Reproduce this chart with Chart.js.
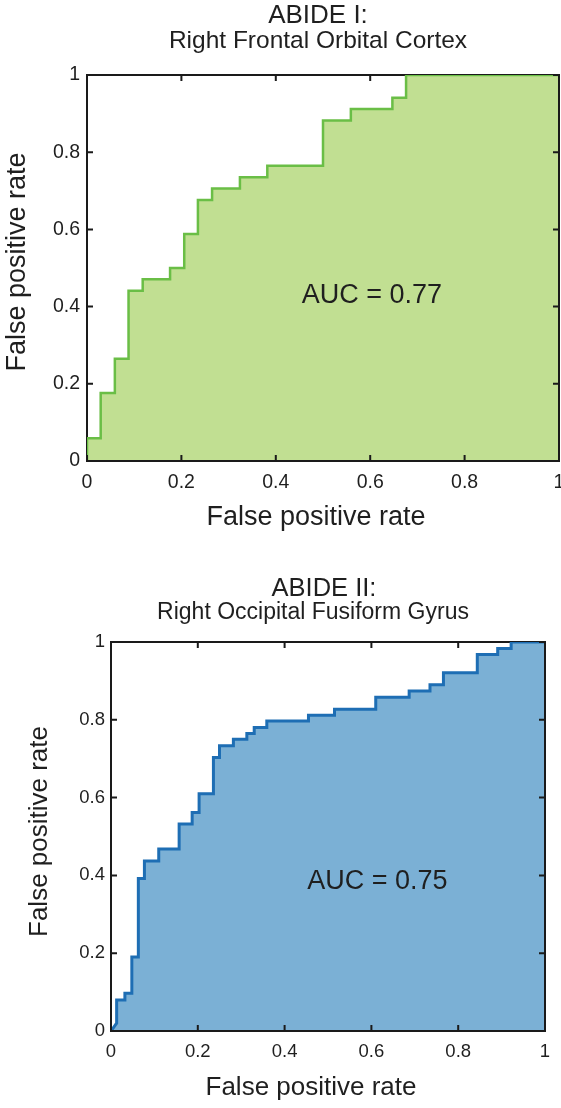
<!DOCTYPE html>
<html><head><meta charset="utf-8">
<script src="https://cdn.jsdelivr.net/npm/chart.js@4.4.1/dist/chart.umd.min.js"></script>
<style>
html,body{margin:0;padding:0;background:#fff;}
.wrap{position:relative;width:561px;height:554px;}
canvas{display:block;}
</style></head><body>
<div class="wrap"><canvas id="c1" width="561" height="554"></canvas></div>
<div class="wrap"><canvas id="c2" width="561" height="554"></canvas></div>
<script>
// ---- data ----
const tickValues = [0, 0.2, 0.4, 0.6, 0.8, 1];
const tickLabels = ['0', '0.2', '0.4', '0.6', '0.8', '1'];

const titleTop = 'ABIDE I:';
const subtitleTop = 'Right Frontal Orbital Cortex';
const fprTop = [0, 0, 0.029, 0.029, 0.059, 0.059, 0.088, 0.088, 0.118, 0.118, 0.176, 0.176, 0.206, 0.206, 0.235, 0.235, 0.265, 0.265, 0.324, 0.324, 0.382, 0.382, 0.5, 0.5, 0.559, 0.559, 0.647, 0.647, 0.676, 0.676, 1];
const tprTop = [0, 0.059, 0.059, 0.176, 0.176, 0.265, 0.265, 0.441, 0.441, 0.471, 0.471, 0.5, 0.5, 0.588, 0.588, 0.676, 0.676, 0.706, 0.706, 0.735, 0.735, 0.765, 0.765, 0.882, 0.882, 0.912, 0.912, 0.941, 0.941, 1, 1];
const aucTop = 'AUC = 0.77';

const titleBottom = 'ABIDE II:';
const subtitleBottom = 'Right Occipital Fusiform Gyrus';
const fprBottom = [0, 0.013, 0.013, 0.032, 0.032, 0.048, 0.048, 0.063, 0.063, 0.077, 0.077, 0.11, 0.11, 0.157, 0.157, 0.187, 0.187, 0.203, 0.203, 0.236, 0.236, 0.25, 0.25, 0.282, 0.282, 0.313, 0.313, 0.33, 0.33, 0.359, 0.359, 0.455, 0.455, 0.515, 0.515, 0.61, 0.61, 0.687, 0.687, 0.735, 0.735, 0.766, 0.766, 0.844, 0.844, 0.891, 0.891, 0.922, 0.922, 1];
const tprBottom = [0, 0.02, 0.08, 0.08, 0.097, 0.097, 0.19, 0.19, 0.392, 0.392, 0.437, 0.437, 0.468, 0.468, 0.532, 0.532, 0.562, 0.562, 0.61, 0.61, 0.703, 0.703, 0.733, 0.733, 0.75, 0.75, 0.765, 0.765, 0.78, 0.78, 0.797, 0.797, 0.812, 0.812, 0.827, 0.827, 0.858, 0.858, 0.874, 0.874, 0.89, 0.89, 0.921, 0.921, 0.968, 0.968, 0.983, 0.983, 1, 1];
const aucBottom = 'AUC = 0.75';

const axisLabel = 'False positive rate';

// ---- drawing ----
const FONT = "'Liberation Sans', Arial, Helvetica, sans-serif";
const INK = '#1f1f1f';

function frameLines(ctx, a, sides) {
  ctx.save();
  ctx.strokeStyle = '#1a1a1a';
  ctx.lineWidth = 2;
  ctx.lineCap = 'square';
  const L = a.left, R = a.right, T = a.top, B = a.bottom;
  ctx.beginPath();
  if (sides.includes('t')) { ctx.moveTo(L, T); ctx.lineTo(R, T); }
  if (sides.includes('b')) { ctx.moveTo(L, B); ctx.lineTo(R, B); }
  if (sides.includes('l')) { ctx.moveTo(L, T); ctx.lineTo(L, B); }
  if (sides.includes('r')) { ctx.moveTo(R, T); ctx.lineTo(R, B); }
  ctx.stroke();
  ctx.restore();
}
function tickMarks(chart, sides) {
  const ctx = chart.ctx, a = chart.chartArea;
  const xs = chart.scales.x, ys = chart.scales.y;
  const len = 6;
  ctx.save();
  ctx.strokeStyle = '#1a1a1a';
  ctx.lineWidth = 2;
  ctx.beginPath();
  tickValues.forEach(v => {
    const px = xs.getPixelForValue(v), py = ys.getPixelForValue(v);
    if (sides.includes('b')) { ctx.moveTo(px, a.bottom); ctx.lineTo(px, a.bottom - len); }
    if (sides.includes('t')) { ctx.moveTo(px, a.top); ctx.lineTo(px, a.top + len); }
    if (sides.includes('l')) { ctx.moveTo(a.left, py); ctx.lineTo(a.left + len, py); }
    if (sides.includes('r')) { ctx.moveTo(a.right, py); ctx.lineTo(a.right - len, py); }
  });
  ctx.stroke();
  ctx.restore();
}

function shiftTextBoxes(chart, opts, sign) {
  chart.boxes.forEach(b => {
    if (b.axis || !b.options) return;
    if (b.options.text === opts.titleText) { b.left += sign * opts.titleShift; b.right += sign * opts.titleShift; }
    if (b.options.text === opts.subText) { b.left += sign * opts.subShift; b.right += sign * opts.subShift; }
  });
  const xs = chart.scales.x, ys = chart.scales.y;
  xs.left += sign * opts.xLabelShift; xs.right += sign * opts.xLabelShift;
  ys.top += sign * opts.yLabelShift; ys.bottom += sign * opts.yLabelShift;
}

const framePlugin = {
  id: 'frame',
  afterLayout(chart, args, opts) {
    // nudge titles / axis titles to the reference placement (only while they are drawn)
    shiftTextBoxes(chart, opts, 1);
    chart.$shifted = true;
  },
  beforeDatasetsDraw(chart, args, opts) {
    if (chart.$shifted) { shiftTextBoxes(chart, opts, -1); chart.$shifted = false; }
    frameLines(chart.ctx, chart.chartArea, 'tblr');
    tickMarks(chart, 'tblr');
  },
  afterDatasetsDraw(chart, args, opts) {
    frameLines(chart.ctx, chart.chartArea, 'br');
    tickMarks(chart, 'br');
    const ctx = chart.ctx;
    ctx.save();
    ctx.font = opts.aucSize + 'px ' + FONT;
    ctx.fillStyle = INK;
    ctx.textAlign = 'left';
    ctx.textBaseline = 'middle';
    ctx.fillText(opts.aucText, chart.scales.x.getPixelForValue(opts.aucX), chart.scales.y.getPixelForValue(opts.aucY));
    ctx.restore();
  }
};

function makeChart(id, cfg) {
  const pts = cfg.fpr.map((x, i) => ({ x: x, y: cfg.tpr[i] }));
  return new Chart(document.getElementById(id), {
    type: 'line',
    data: {
      datasets: [{
        data: pts,
        borderColor: cfg.line,
        backgroundColor: cfg.fill,
        borderWidth: cfg.lw,
        fill: 'origin',
        pointRadius: 0,
        tension: 0,
        borderJoinStyle: 'miter',
        borderCapStyle: 'butt'
      }]
    },
    plugins: [framePlugin],
    options: {
      responsive: false,
      devicePixelRatio: 1,
      animation: false,
      events: [],
      layout: { padding: { left: 0, right: cfg.padRight, top: 0, bottom: 0 } },
      plugins: {
        legend: { display: false },
        tooltip: { enabled: false },
        title: {
          display: true, text: cfg.title, fullSize: false, color: INK,
          font: { family: FONT, size: cfg.titleSize, weight: 'normal', lineHeight: 1 },
          padding: { top: cfg.titlePadTop, bottom: 0 }
        },
        subtitle: {
          display: true, text: cfg.subtitle, fullSize: false, color: INK,
          font: { family: FONT, size: cfg.subSize, weight: 'normal', lineHeight: 1 },
          padding: { top: 0, bottom: cfg.subPadBottom }
        },
        frame: {
          aucText: cfg.auc, aucX: cfg.aucX, aucY: cfg.aucY, aucSize: cfg.aucSize,
          titleText: cfg.title, subText: cfg.subtitle,
          titleShift: cfg.titleShift, subShift: cfg.subShift,
          xLabelShift: cfg.xLabelShift, yLabelShift: cfg.yLabelShift
        }
      },
      scales: {
        x: {
          type: 'linear', min: 0, max: 1,
          grid: { display: false, drawTicks: false },
          border: { display: false },
          afterBuildTicks: s => { s.ticks = tickValues.map(v => ({ value: v })); },
          ticks: { color: INK, padding: cfg.xTickPad, maxRotation: 0, autoSkip: false,
            font: { family: FONT, size: cfg.tickSize },
            callback: (v, i) => tickLabels[i] },
          title: { display: true, text: axisLabel, color: INK,
            font: { family: FONT, size: cfg.labelSize, lineHeight: 1.2 },
            padding: { top: 0, bottom: cfg.xTitlePad } },
          afterFit: s => { s.height = cfg.xHeight; s.paddingLeft = 0; s.paddingRight = 0; }
        },
        y: {
          type: 'linear', min: 0, max: 1,
          grid: { display: false, drawTicks: false },
          border: { display: false },
          afterBuildTicks: s => { s.ticks = tickValues.map(v => ({ value: v })); },
          ticks: { color: INK, padding: cfg.yTickPad, autoSkip: false,
            font: { family: FONT, size: cfg.tickSize },
            callback: (v, i) => tickLabels[i] },
          title: { display: true, text: axisLabel, color: INK,
            font: { family: FONT, size: cfg.labelSize, lineHeight: 1.2 },
            padding: { top: cfg.yTitlePad, bottom: 0 } },
          afterFit: s => { s.width = cfg.yWidth; s.paddingTop = 0; s.paddingBottom = 0; }
        }
      }
    }
  });
}

makeChart('c1', {
  fpr: fprTop, tpr: tprTop, title: titleTop, subtitle: subtitleTop, auc: aucTop,
  line: 'rgb(106,190,70)', fill: 'rgb(193,223,146)', lw: 2.5,
  titleSize: 26, subSize: 24.5, titlePadTop: 2.5, subPadBottom: 22,
  labelSize: 27, tickSize: 19.5, aucSize: 27, aucX: 0.455, aucY: 0.429,
  padRight: 2, xHeight: 93, yWidth: 87, xTickPad: 9.5, yTickPad: 7,
  xTitlePad: 19.8, yTitlePad: 1.3,
  titleShift: -5, subShift: -5, xLabelShift: -7, yLabelShift: -6
});

makeChart('c2', {
  fpr: fprBottom, tpr: tprBottom, title: titleBottom, subtitle: subtitleBottom, auc: aucBottom,
  line: 'rgb(30,110,180)', fill: 'rgb(123,176,213)', lw: 3,
  titleSize: 25.5, subSize: 23, titlePadTop: 22, subPadBottom: 17.5,
  labelSize: 26, tickSize: 18.5, aucSize: 27, aucX: 0.452, aucY: 0.383,
  padRight: 16, xHeight: 77, yWidth: 111, xTickPad: 9.4, yTickPad: 6,
  xTitlePad: 4.4, yTitlePad: 24.4,
  titleShift: -4, subShift: -15, xLabelShift: -17, yLabelShift: -5
});
</script>
</body></html>
